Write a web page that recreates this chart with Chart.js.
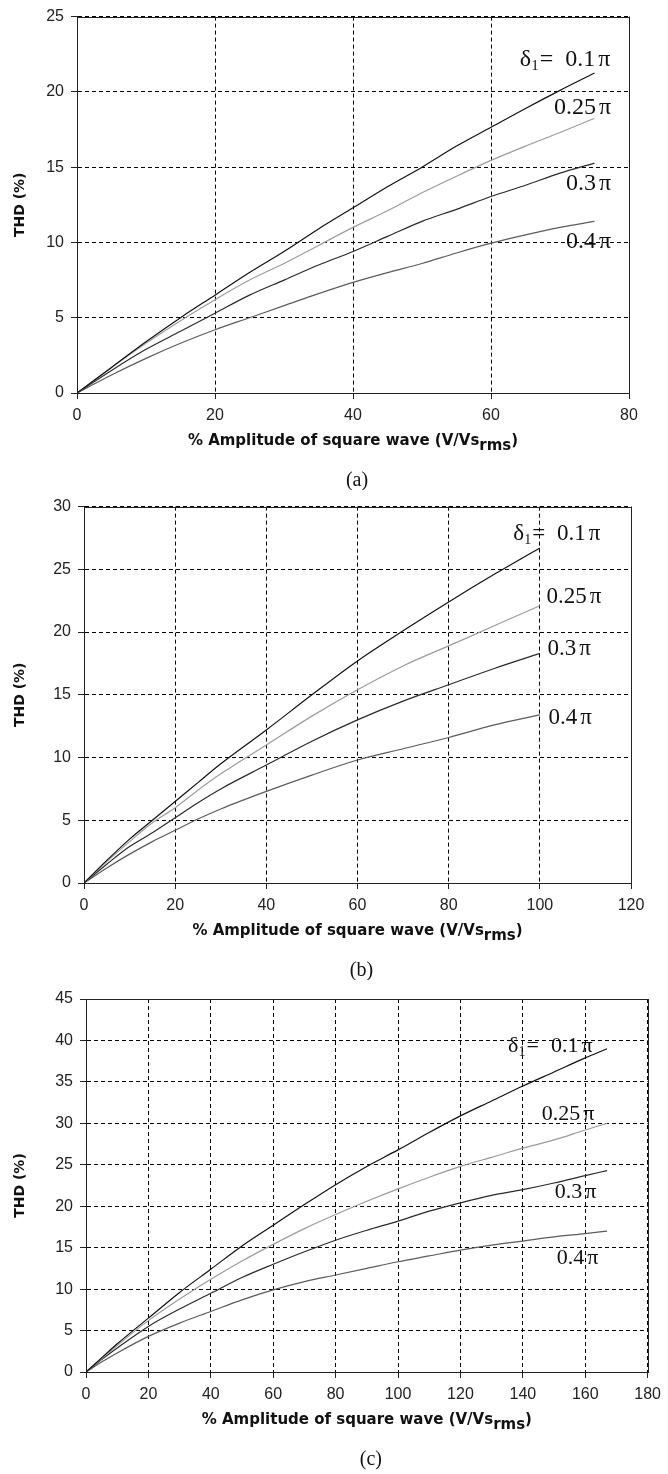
<!DOCTYPE html>
<html>
<head>
<meta charset="utf-8">
<script src="https://cdn.jsdelivr.net/npm/chart.js@4.4.1/dist/chart.umd.min.js"></script>
<style>
  body { margin: 0; background: #fff; }
  canvas { display: block; }
</style>
</head>
<body>
<canvas id="chartA" width="668" height="490"></canvas>
<canvas id="chartB" width="668" height="490"></canvas>
<canvas id="chartC" width="668" height="494"></canvas>
<script>
// -------------------------
// Data
// -------------------------
const seriesNames = ["0.1", "0.25", "0.3", "0.4"];

// (a)
const xA = [0, 5, 10, 15, 20, 25, 30, 35, 40, 45, 50, 55, 60, 65, 70, 75];
const thdA_01  = [0, 1.7, 3.4, 5.0, 6.5, 8.0, 9.4, 10.9, 12.3, 13.7, 15.0, 16.4, 17.65, 18.9, 20.1, 21.25];
const thdA_025 = [0, 1.7, 3.3, 4.8, 6.2, 7.5, 8.6, 9.8, 11.0, 12.1, 13.3, 14.4, 15.45, 16.4, 17.3, 18.25];
const thdA_03  = [0, 1.5, 2.9, 4.1, 5.3, 6.5, 7.5, 8.5, 9.4, 10.4, 11.4, 12.2, 13.05, 13.8, 14.6, 15.27];
const thdA_04  = [0, 1.2, 2.3, 3.3, 4.2, 5.0, 5.8, 6.6, 7.35, 8.0, 8.6, 9.3, 9.95, 10.5, 11.0, 11.4];

// (b)
const xB = [0, 5, 10, 15, 20, 25, 30, 40, 50, 60, 70, 80, 90, 100];
const thdB_01  = [0, 1.8, 3.5, 5.0, 6.5, 8.0, 9.5, 12.2, 15.0, 17.7, 20.1, 22.4, 24.6, 26.7];
const thdB_025 = [0, 1.7, 3.3, 4.8, 6.0, 7.4, 8.7, 11.0, 13.3, 15.4, 17.3, 18.9, 20.5, 22.1];
const thdB_03  = [0, 1.5, 2.9, 4.0, 5.2, 6.4, 7.5, 9.4, 11.3, 13.0, 14.5, 15.8, 17.1, 18.3];
const thdB_04  = [0, 1.2, 2.3, 3.3, 4.2, 5.1, 5.9, 7.3, 8.6, 9.8, 10.7, 11.6, 12.6, 13.4];

// (c)
const xC = [0, 5, 10, 20, 30, 40, 50, 60, 70, 80, 90, 100, 110, 120, 130, 140, 150, 160, 167];
const thdC_01  = [0, 1.7, 3.4, 6.5, 9.6, 12.4, 15.2, 17.7, 20.2, 22.6, 24.8, 26.8, 28.9, 30.9, 32.7, 34.5, 36.2, 37.9, 39.0];
const thdC_025 = [0, 1.6, 3.2, 6.2, 8.8, 11.2, 13.4, 15.4, 17.3, 19.0, 20.6, 22.1, 23.5, 24.8, 25.9, 27.0, 28.0, 29.2, 30.0];
const thdC_03  = [0, 1.5, 2.9, 5.5, 7.6, 9.5, 11.4, 13.0, 14.5, 15.9, 17.1, 18.2, 19.4, 20.4, 21.3, 22.0, 22.8, 23.7, 24.3];
const thdC_04  = [0, 1.2, 2.3, 4.3, 5.9, 7.3, 8.7, 9.9, 10.9, 11.7, 12.5, 13.3, 14.0, 14.7, 15.3, 15.8, 16.3, 16.7, 17.0];

// curve labels: right edge of the number and its baseline, in data units
const labelsA = [[75.1, 21.7], [75.2, 18.5], [75.2, 13.5], [75.2, 9.6]];
const labelsB = [[110.1, 27.3], [110.3, 22.3], [108.0, 18.2], [108.2, 12.7]];
const labelsC = [[157.8, 38.6], [158.4, 30.4], [159.0, 21.0], [159.7, 13.0]];

const seriesColors = ["#111", "#9c9c9c", "#2a2a2a", "#5c5c5c"];

// -------------------------
// Text drawn around the plot
// -------------------------
const figureText = {
  id: "figureText",
  afterDraw(chart) {
    const p = chart.options.plugins.figureText;
    const { ctx, chartArea: a, scales: { x, y } } = chart;
    ctx.save();

    // frame
    ctx.strokeStyle = "#222";
    ctx.lineWidth = 1;
    ctx.setLineDash([]);
    ctx.strokeRect(Math.round(a.left) + 0.5, Math.round(a.top) + 0.5,
      Math.round(a.right) - Math.round(a.left), Math.round(a.bottom) - Math.round(a.top));

    ctx.fillStyle = "#111";

    // y title
    ctx.save();
    ctx.translate(20, (a.top + a.bottom) / 2);
    ctx.rotate(-Math.PI / 2);
    ctx.font = "bold 14px 'DejaVu Sans'";
    ctx.textAlign = "center";
    ctx.textBaseline = "middle";
    ctx.fillText("THD (%)", 0, 0);
    ctx.restore();

    // x title with subscript
    ctx.font = "bold 15px 'DejaVu Sans'";
    ctx.textBaseline = "middle";
    ctx.textAlign = "left";
    const main = "% Amplitude of square wave (V/Vs";
    const wMain = ctx.measureText(main).width;
    const wSub = ctx.measureText("rms").width;
    const wEnd = ctx.measureText(")").width;
    let tx = (a.left + a.right) / 2 - (wMain + wSub + wEnd) / 2;
    const ty = a.bottom + 48;
    ctx.fillText(main, tx, ty);
    ctx.fillText("rms", tx + wMain, ty + 5);
    ctx.fillText(")", tx + wMain + wSub, ty);

    // caption
    ctx.font = "20px 'Liberation Serif'";
    ctx.textAlign = "center";
    ctx.fillText(p.caption, (a.left + a.right) / 2 + 4, p.captionY);

    // curve labels
    ctx.textBaseline = "alphabetic";
    p.labels.forEach((lab, i) => {
      const px = x.getPixelForValue(lab[0]);
      const py = y.getPixelForValue(lab[1]);
      ctx.font = p.labelSize + "px 'Liberation Serif'";
      ctx.textAlign = "right";
      ctx.fillText(seriesNames[i], px, py);
      ctx.textAlign = "left";
      ctx.fillText("\u03c0", px + 3, py);
      if (i === 0) {
        const numW = ctx.measureText(seriesNames[i]).width;
        const eqW = ctx.measureText("=").width;
        const dW = ctx.measureText("\u03b4").width;
        ctx.font = Math.round(p.labelSize * 0.62) + "px 'Liberation Serif'";
        const sW = ctx.measureText("1").width;
        const eqX = px - numW - 12 - eqW;
        ctx.fillText("1", eqX - sW - 1, py + 4);
        ctx.font = p.labelSize + "px 'Liberation Serif'";
        ctx.fillText("=", eqX, py);
        ctx.fillText("\u03b4", eqX - sW - 1 - dW, py);
      }
    });
    ctx.restore();
  }
};

function makeDatasets(xs, ys) {
  return ys.map((vals, i) => ({
    label: seriesNames[i],
    data: xs.map((v, k) => ({ x: v, y: vals[k] })),
    borderColor: seriesColors[i],
    borderWidth: 1.2,
    pointRadius: 0,
    fill: false,
    cubicInterpolationMode: "monotone"
  }));
}

function axis(max, step, fit) {
  return {
    type: "linear",
    min: 0,
    max: max,
    ticks: { stepSize: step, color: "#222", font: { family: "Liberation Sans", size: 16 }, padding: 7, maxRotation: 0 },
    grid: { color: "#000", lineWidth: 1, tickLength: 6, tickColor: "#222", tickWidth: 1 },
    border: { display: true, color: "#222", width: 1, dash: [4, 3] },
    afterFit: fit
  };
}

function makeChart(id, p, xs, ys) {
  return new Chart(document.getElementById(id), {
    type: "line",
    data: { datasets: makeDatasets(xs, ys) },
    options: {
      responsive: false,
      animation: false,
      events: [],
      layout: { padding: { top: p.top, right: 668 - p.right, left: 0, bottom: 0 } },
      plugins: { legend: { display: false }, tooltip: { enabled: false }, figureText: p },
      scales: {
        x: axis(p.xMax, 20, s => { s.height = p.height - p.bottom; }),
        y: axis(p.yMax, 5, s => { s.width = p.left; })
      }
    },
    plugins: [figureText]
  });
}

makeChart("chartA",
  { height: 490, left: 77, right: 629, top: 15, bottom: 393, xMax: 80, yMax: 25,
    caption: "(a)", captionY: 481, labels: labelsA, labelSize: 24 },
  xA, [thdA_01, thdA_025, thdA_03, thdA_04]);

makeChart("chartB",
  { height: 490, left: 84, right: 631, top: 16, bottom: 393, xMax: 120, yMax: 30,
    caption: "(b)", captionY: 481, labels: labelsB, labelSize: 23 },
  xB, [thdB_01, thdB_025, thdB_03, thdB_04]);

makeChart("chartC",
  { height: 494, left: 86, right: 653, top: 19, bottom: 392, xMax: 180, yMax: 45,
    caption: "(c)", captionY: 480, labels: labelsC, labelSize: 22 },
  xC, [thdC_01, thdC_025, thdC_03, thdC_04]);
</script>
</body>
</html>
